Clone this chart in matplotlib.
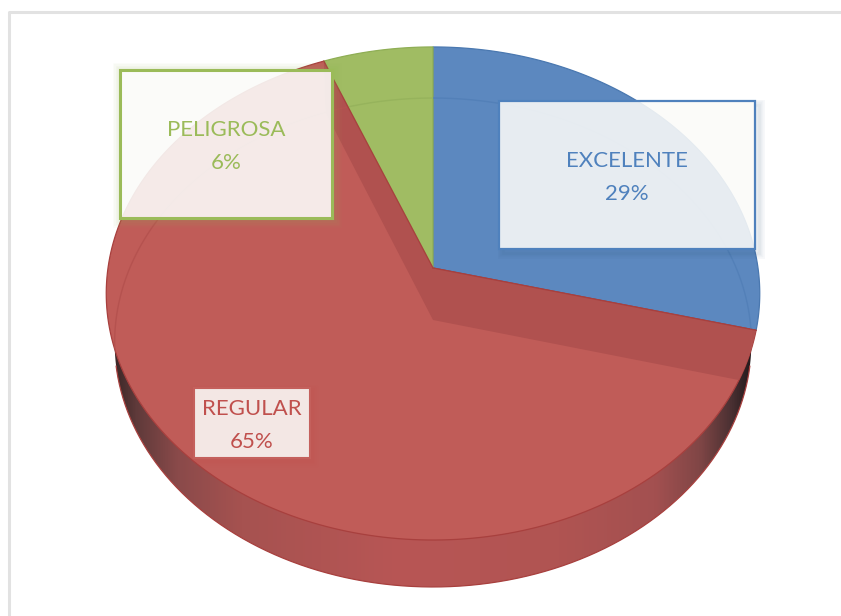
import numpy as np
import matplotlib
matplotlib.use('Agg')
import matplotlib.pyplot as plt
from matplotlib.colors import LinearSegmentedColormap
from matplotlib.patches import PathPatch, Polygon, Rectangle
from matplotlib.path import Path

plt.rcParams['font.family'] = ['Lato', 'DejaVu Sans']

categories = ['EXCELENTE', 'REGULAR', 'PELIGROSA']
values = [29, 65, 6]
colors = ['#5c88bf', '#c05c58', '#a0bc63']
edges = ['#4a78b0', '#a8403e', '#8fae55']
text_colors = ['#4f81bd', '#c0504d', '#9bbb59']

# label box: x, y, width, height in image pixels
boxes = [(499, 101, 256, 148), (194, 388, 116, 70), (120, 70, 212, 148)]

# projected pie discs: centre x, centre y, half width, depth, perspective
top_disc = (433, 268, 325, 243.9, 0.1034)
low_disc = (433, 320, 317, 242.4, 0.092)


def rim(disc, theta):
    cx, cy, a, k, p = disc
    denom = 1 + p * np.cos(theta)
    return np.column_stack([cx + a * np.sin(theta) / denom,
                            cy - k * np.cos(theta) / denom])


def wedge_points(disc, start, stop):
    theta = np.linspace(start, stop, 200)
    return np.vstack([[disc[0], disc[1]], rim(disc, theta)])


def shadow_color(color):
    return '#2f4f78' if color == '#4f81bd' else color


def add_label(ax, box, name, value, color, edge, edge_width, alpha, shadow):
    x, y, w, h = box
    dx, dy, spread, strength = shadow
    # shadow only outside the box, the box itself is see-through
    outer = [(0, 0), (841, 0), (841, 616), (0, 616), (0, 0)]
    inner = [(x, y), (x, y + h), (x + w, y + h), (x + w, y), (x, y)]
    codes = [Path.MOVETO] + [Path.LINETO] * 3 + [Path.CLOSEPOLY]
    clip = PathPatch(Path(outer + inner, codes + codes), transform=ax.transData)
    for width in np.arange(2, spread, 2):
        rect = Rectangle((x + dx, y + dy), w, h, fill=False, ec=shadow_color(color),
                         lw=width, alpha=strength, zorder=5)
        ax.add_patch(rect)
        rect.set_clip_path(clip)
    ax.add_patch(Rectangle((x, y), w, h, fc='#fbfbf9', ec='none', alpha=alpha, zorder=6))
    ax.add_patch(Rectangle((x, y), w, h, fill=False, ec=edge, lw=edge_width, zorder=7))
    ax.text(x + w / 2, y + h / 2 - 14, name, color=color, fontsize=16,
            ha='center', va='center', zorder=8)
    ax.text(x + w / 2, y + h / 2 + 19, f'{value}%', color=color, fontsize=16,
            ha='center', va='center', zorder=8)


fig = plt.figure(figsize=(8.41, 6.16), dpi=100)
ax = fig.add_axes([0, 0, 1, 1])
ax.set_xlim(0, 841)
ax.set_ylim(616, 0)
ax.axis('off')

# chart frame, only the top and left sides are in the picture
ax.plot([841, 9.5, 9.5], [11.5, 11.5, 616], color='#e2e2e2', lw=2.2, zorder=1)

# side wall, dark toward both ends
all_angles = np.linspace(0, 2 * np.pi, 500)
wall_cmap = LinearSegmentedColormap.from_list(
    'wall', [(0.0, '#3a2626'), (0.035, '#5f3a3a'), (0.1, '#8a4a4a'), (0.2, '#a65250'),
             (0.45, '#b85655'), (0.7, '#b05452'), (0.85, '#a35050'), (0.92, '#804646'),
             (0.97, '#4a3032'), (1.0, '#241a1c')])
wall = ax.imshow(np.linspace(0, 1, 256).reshape(1, -1), cmap=wall_cmap,
                 extent=(113, 752, 616, 0), aspect='auto', zorder=2)
ax.set_xlim(0, 841)
ax.set_ylim(616, 0)
wall_patch = Polygon(rim(low_disc, all_angles), closed=True, transform=ax.transData)
wall.set_clip_path(wall_patch)
ax.plot(*rim(low_disc, np.linspace(np.pi * 0.56, np.pi * 1.44, 300)).T,
        color='#a8403e', lw=0.9, zorder=2.5)

# top face
fractions = np.cumsum([0] + values) / sum(values) * 2 * np.pi
red_patch = None
for i, name in enumerate(categories):
    pts = wedge_points(top_disc, fractions[i], fractions[i + 1])
    patch = Polygon(pts, closed=True, fc=colors[i], ec=edges[i], lw=0.9, zorder=3)
    ax.add_patch(patch)
    if name == 'REGULAR':
        red_patch = patch

# inner walls seen through the red slice
for angle in (fractions[1], fractions[2]):
    upper = rim(top_disc, np.array([angle]))[0]
    lower = rim(low_disc, np.array([angle]))[0]
    strip = Polygon([top_disc[:2], low_disc[:2], lower, upper], closed=True,
                    fc='#b0514f', ec='none', zorder=3.5)
    ax.add_patch(strip)
    strip.set_clip_path(red_patch)

# far rim of the lower disc shows faintly through the top face
back = rim(low_disc, np.linspace(-np.pi * 0.56, np.pi * 0.56, 300))
for i, name in enumerate(categories):
    tint = {'EXCELENTE': '#5380b8', 'REGULAR': '#b5524f', 'PELIGROSA': '#96b35c'}[name]
    line, = ax.plot(*back.T, color=tint, lw=1, zorder=3.6)
    clip = Polygon(wedge_points(top_disc, fractions[i], fractions[i + 1]),
                   closed=True, transform=ax.transData)
    line.set_clip_path(clip)

# wedge edges on top of the strips
for angle in fractions[1:3]:
    upper = rim(top_disc, np.array([angle]))[0]
    ax.plot([top_disc[0], upper[0]], [top_disc[1], upper[1]], color='#a8403e', lw=0.9, zorder=3.8)

add_label(ax, boxes[0], categories[0], values[0], text_colors[0], '#4f81bd', 1.6, 0.88, (4, 4, 10, 0.035))
add_label(ax, boxes[1], categories[1], values[1], text_colors[1], '#c4605c', 1.5, 0.88, (2, 3, 10, 0.04))
add_label(ax, boxes[2], categories[2], values[2], text_colors[2], '#9bbb59', 2.2, 0.9, (1, 1, 14, 0.035))

fig.savefig('out.png', dpi=100)
